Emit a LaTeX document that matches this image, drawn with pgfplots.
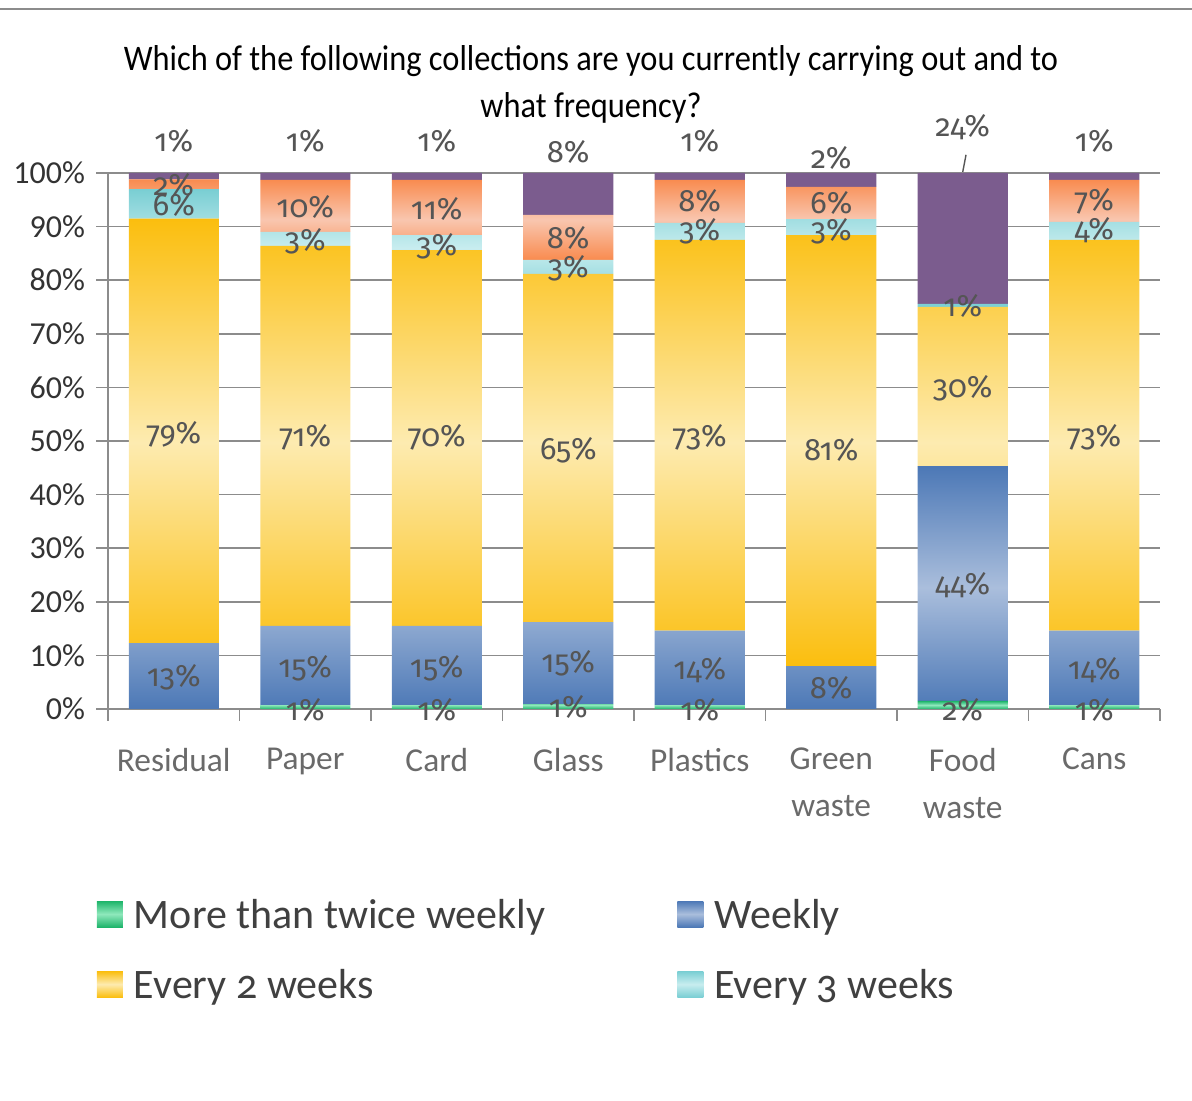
\documentclass[border=0pt]{standalone}
\usepackage{pgfplots}
\usepackage{pgfplotstable}
\pgfplotsset{compat=1.18}
\usepackage{fontspec}
\setmainfont{Carlito}[Numbers=OldStyle]
\newfontfamily\liningfont{Carlito}[Numbers=Lining]
\newfontfamily\titlefont{Carlito}[Numbers=Lining,FakeStretch=0.9]
\newfontfamily\labfont{Fira Sans}[Numbers=OldStyle]

\definecolor{grnE}{HTML}{1DB46A}
\definecolor{grnC}{HTML}{8FE8BC}
\definecolor{bluE}{HTML}{4C78B6}
\definecolor{bluC}{HTML}{AABEDC}
\definecolor{yelE}{HTML}{FBBE0E}
\definecolor{yelC}{HTML}{FDEBB0}
\definecolor{cyaE}{HTML}{79CED3}
\definecolor{cyaC}{HTML}{C8EDEF}
\definecolor{salE}{HTML}{F98B4F}
\definecolor{salC}{HTML}{F9C6AF}
\definecolor{purp}{HTML}{7B5C8E}
\definecolor{gridc}{HTML}{8C8C8C}
\definecolor{labc}{HTML}{555555}
\definecolor{catc}{HTML}{6A6A6A}

\pgfplotstableread{
x green weekly two three four other
0 0   12.3 79.2 5.5 1.8  1.2
1 0.7 14.8 70.9 2.6 9.7  1.3
2 0.7 14.8 70.1 2.8 10.3 1.3
3 0.9 15.3 65.0 2.6 8.4  7.8
4 0.7 13.9 72.9 3.2 8.0  1.3
5 0   8.0  80.4 3.0 6.0  2.6
6 1.5 43.8 29.7 0.6 0    24.4
7 0.7 13.9 72.9 3.4 7.8  1.3
}\data

\pgfplotstableread{
x y lab
0 6.0 13\%
0 51.3 79\%
0 94.0 6\%
0 97.8 2\%
0 106.0 1\%
1 -0.2 1\%
1 7.6 15\%
1 50.7 71\%
1 87.3 3\%
1 93.7 10\%
1 106.0 1\%
2 -0.2 1\%
2 7.6 15\%
2 50.7 70\%
2 86.4 3\%
2 93.3 11\%
2 106.0 1\%
3 0.4 1\%
3 8.6 15\%
3 48.3 65\%
3 82.3 3\%
3 87.9 8\%
3 103.9 8\%
4 -0.2 1\%
4 7.3 14\%
4 50.7 73\%
4 89.2 3\%
4 94.8 8\%
4 106.0 1\%
5 3.9 8\%
5 48.3 81\%
5 89.2 3\%
5 94.4 6\%
5 102.8 2\%
6 -0.2 2\%
6 23.1 44\%
6 59.9 30\%
6 75.2 1\%
6 108.6 24\%
7 -0.2 1\%
7 7.3 14\%
7 50.7 73\%
7 89.4 4\%
7 94.8 7\%
7 106.0 1\%
}\labels

\begin{document}
\begin{tikzpicture}
\path[use as bounding box] (0,0) rectangle (596pt,550.5pt);
\draw[gridc, line width=1pt] (0,546pt) -- (596pt,546pt);
\node[font=\titlefont\fontsize{18}{23.5}\selectfont, align=center] at (295.5pt,508.5pt)
  {Which of the following collections are you currently carrying out and to\\what frequency?};

\begin{axis}[
  at={(54pt,196pt)}, anchor=south west,
  scale only axis, width=526pt, height=268pt,
  ybar stacked, bar width=45pt,
  xmin=-0.5, xmax=7.5, ymin=0, ymax=100,
  enlargelimits=false,
  axis lines*=left,
  axis line style={gridc, line width=0.8pt},
  ytick={0,10,...,100},
  yticklabel={\pgfmathprintnumber{\tick}\%},
  yticklabel style={font=\liningfont\fontsize{16}{18}\selectfont, text=black!80, xshift=-2pt},
  /pgf/number format/assume math mode=true,
  ymajorgrids,
  grid style={gridc, line width=0.8pt},
  xtick={-0.5,0.5,...,7.5},
  xticklabels={},
  extra x ticks={0,1,2,3,4,5,6,7},
  extra x tick labels={Residual,Paper,Card,Glass,Plastics,Green\\waste,Food\\waste,Cans},
  extra x tick style={major tick length=0pt, xmajorgrids=false,
     xticklabel style={align=center, font=\fontsize{16.7}{23.5}\selectfont, text=catc, yshift=-16pt}},
  tick align=outside,
  major tick length=6pt,
  tick style={gridc, line width=0.8pt},
  legend columns=2,
  legend cell align=left,
  legend style={at={(-0.0105,-0.3545)}, anchor=north west, draw=none, fill=none,
     inner sep=0pt, outer sep=0pt,
     font=\fontsize{21}{25}\selectfont, text=black!75,
     nodes={inner sep=0pt},
     row sep=19pt,
     /tikz/every odd column/.append style={column sep=5.5pt},
     /tikz/every even column/.append style={column sep=66pt}},
  legend image code/.code={\path[#1,draw=none] (0pt,-6pt) rectangle (13pt,7pt);},
]
\addplot[draw=none, top color=grnE, bottom color=grnE, middle color=grnC] table[x=x,y=green]{\data};
\addplot[draw=none, top color=bluE, bottom color=bluE, middle color=bluC] table[x=x,y=weekly]{\data};
\addplot[draw=none, top color=yelE, bottom color=yelE, middle color=yelC] table[x=x,y=two]{\data};
\addplot[draw=none, top color=cyaE, bottom color=cyaE, middle color=cyaC] table[x=x,y=three]{\data};
\addplot[draw=none, top color=salE, bottom color=salE, middle color=salC] table[x=x,y=four]{\data};
\addplot[draw=none, fill=purp] table[x=x,y=other]{\data};
\legend{More than twice weekly, Weekly, Every 2 weeks, Every 3 weeks}
\end{axis}

\begin{axis}[
  at={(54pt,196pt)}, anchor=south west,
  scale only axis, width=526pt, height=268pt,
  xmin=-0.5, xmax=7.5, ymin=0, ymax=100,
  hide axis, clip=false,
]
\addplot[draw=none, mark=none, nodes near coords, nodes near coords align={center},
  point meta=explicit symbolic,
  every node near coord/.append style={font=\labfont\fontsize{15.5}{18}\selectfont, text=labc, inner sep=0pt, anchor=center}]
  table[x=x,y=y,meta=lab]{\labels};
\addplot[labc, line width=0.7pt, mark=none] coordinates {(6.0,100.2) (6.025,103.4)};
\end{axis}
\end{tikzpicture}
\end{document}
